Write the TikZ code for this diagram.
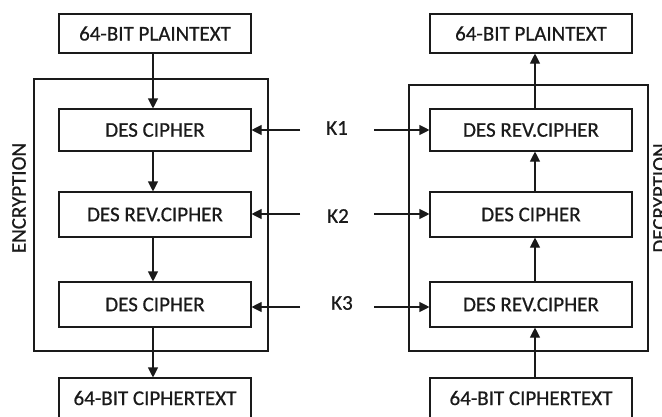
\documentclass[tikz,border=0pt]{standalone}
\usepackage{fontspec}
\setmainfont[FakeBold=0.6]{Carlito}
\usetikzlibrary{arrows.meta}
\definecolor{ink}{HTML}{1A1A1A}
\begin{document}
\begin{tikzpicture}[x=1pt,y=-1pt,
  lw/.style={line width=1.1pt, draw=ink},
  blk/.style={lw, rectangle, inner sep=0pt, text=ink, font=\fontsize{21}{24}\selectfont},
  lblk/.style={blk, minimum width=192pt},
  rblk/.style={blk, minimum width=202pt},
  lbl/.style={text=ink, inner sep=0pt, font=\fontsize{21}{24}\selectfont},
  arr/.style={lw, -{Triangle[length=10pt,width=10pt]}}]
\useasboundingbox (0,0) rectangle (662,416);
\clip (0,0) rectangle (662,416);
% left column
\node[lblk, minimum height=39pt] (pL) at (155,33.5) {64-BIT PLAINTEXT};
\node[lblk, minimum height=42pt] (e1) at (155,130) {DES CIPHER};
\node[lblk, minimum height=45pt] (e2) at (155,214.5) {DES REV.CIPHER};
\node[lblk, minimum height=45pt] (e3) at (155,304.5) {DES CIPHER};
\node[lblk, minimum height=40pt] (cL) at (155,398) {64-BIT CIPHERTEXT};
\draw[lw] (34,79) rectangle (268,351);
% right column
\node[rblk, minimum height=39pt] (pR) at (531,33.5) {64-BIT PLAINTEXT};
\node[rblk, minimum height=42pt] (d1) at (531,130) {DES REV.CIPHER};
\node[rblk, minimum height=45pt] (d2) at (531,214.5) {DES CIPHER};
\node[rblk, minimum height=45pt] (d3) at (531,304.5) {DES REV.CIPHER};
\node[rblk, minimum height=40pt] (cR) at (531,398) {64-BIT CIPHERTEXT};
\draw[lw] (409,85) rectangle (648,351);
% side labels
\node[lbl, rotate=90] (enc) at (19,198) {ENCRYPTION};
\node[lbl, rotate=90] (dec) at (660,198) {DECRYPTION};
% keys
\node[lbl] (k1) at (337,128) {K1};
\node[lbl] (k2) at (338,216) {K2};
\node[lbl] (k3) at (342,303) {K3};
\coordinate (kl1) at (300,130);
\coordinate (kl2) at (300,214);
\coordinate (kl3) at (300,307);
\coordinate (kr1) at (374,130);
\coordinate (kr2) at (374,214);
\coordinate (kr3) at (374,307);
\draw[arr] (kl1) -- (kl1 -| e1.east);
\draw[arr] (kl2) -- (kl2 -| e2.east);
\draw[arr] (kl3) -- (kl3 -| e3.east);
\draw[arr] (kr1) -- (kr1 -| d1.west);
\draw[arr] (kr2) -- (kr2 -| d2.west);
\draw[arr] (kr3) -- (kr3 -| d3.west);
% flow arrows
\draw[arr] ([xshift=-2pt]pL.south) -- ([xshift=-2pt]e1.north);
\draw[arr] ([xshift=-2pt]e1.south) -- ([xshift=-2pt]e2.north);
\draw[arr] ([xshift=-2pt]e2.south) -- ([xshift=-2pt]e3.north);
\draw[arr] ([xshift=-2pt]e3.south) -- ([xshift=-2pt]cL.north);
\draw[arr] ([xshift=4pt]cR.north) -- ([xshift=4pt]d3.south);
\draw[arr] ([xshift=4pt]d3.north) -- ([xshift=4pt]d2.south);
\draw[arr] ([xshift=4pt]d2.north) -- ([xshift=4pt]d1.south);
\draw[arr] ([xshift=4pt]d1.north) -- ([xshift=4pt]pR.south);
\end{tikzpicture}
\end{document}
